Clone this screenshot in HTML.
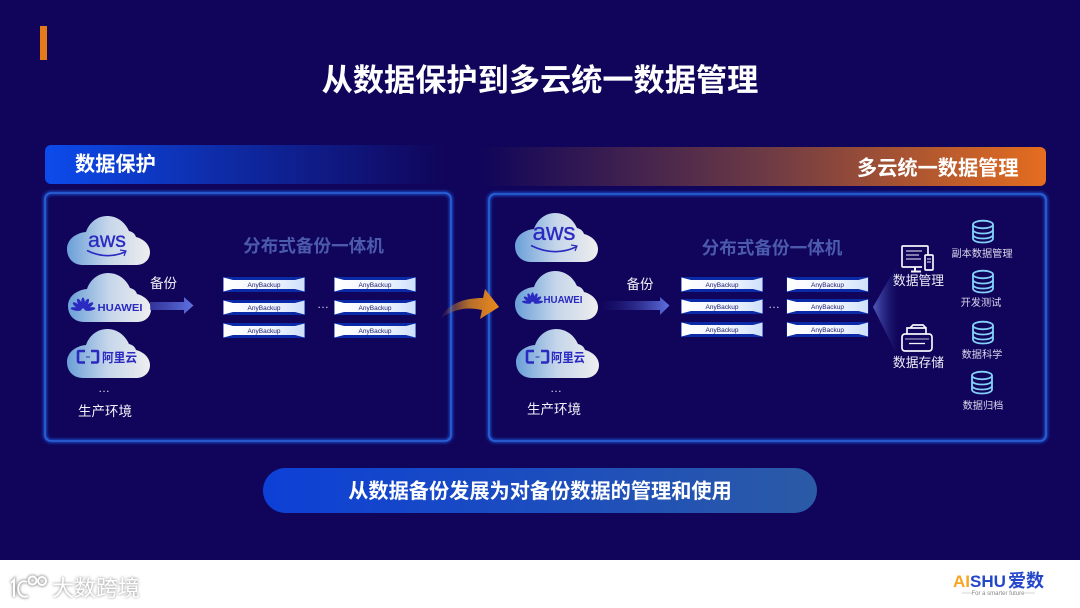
<!DOCTYPE html>
<html><head><meta charset="utf-8">
<style>
html,body{margin:0;padding:0;background:#10055a;width:1080px;height:608px;overflow:hidden}
svg{display:block}
text{font-family:"Liberation Sans","Noto Sans CJK SC",sans-serif}
.b{font-weight:700}
</style></head><body>
<svg width="1080" height="608" viewBox="0 0 1080 608" xmlns="http://www.w3.org/2000/svg">
<defs>
<linearGradient id="barL" x1="0" x2="1" y1="0" y2="0"><stop offset="0" stop-color="#0c4bec"/><stop offset=".45" stop-color="#0e2ba6"/><stop offset="1" stop-color="#10055a"/></linearGradient>
<linearGradient id="barR" x1="0" x2="1" y1="0" y2="0"><stop offset="0" stop-color="#10055a"/><stop offset=".5" stop-color="#6c3a45"/><stop offset="1" stop-color="#e56d1f"/></linearGradient>
<linearGradient id="pill" x1="0" x2="1" y1="0" y2="0"><stop offset="0" stop-color="#0d40d6"/><stop offset="1" stop-color="#2b5aa6"/></linearGradient>
<linearGradient id="cl" x1="0" x2="1" y1="0" y2="0"><stop offset="0" stop-color="#6a9fd8"/><stop offset=".5" stop-color="#c6d6ea"/><stop offset="1" stop-color="#eeeeee"/></linearGradient>
<linearGradient id="rk" x1="0" x2="1" y1="0" y2="0"><stop offset="0" stop-color="#ffffff"/><stop offset=".6" stop-color="#f0f5ff"/><stop offset="1" stop-color="#cfe0fb"/></linearGradient>
<linearGradient id="arB" x1="0" x2="1" y1="0" y2="0"><stop offset="0" stop-color="#3a3fa8" stop-opacity=".8"/><stop offset="1" stop-color="#5f72e0"/></linearGradient>
<linearGradient id="arB2" x1="0" x2="1" y1="0" y2="0"><stop offset="0" stop-color="#2a2a90" stop-opacity="0"/><stop offset="1" stop-color="#5f72e0"/></linearGradient>
<linearGradient id="arO" x1="0" x2="1" y1="0" y2="0"><stop offset="0" stop-color="#c07a30" stop-opacity="0"/><stop offset=".5" stop-color="#b56e2c"/><stop offset="1" stop-color="#ec8a1c"/></linearGradient>
<linearGradient id="fan" gradientUnits="userSpaceOnUse" x1="873" x2="898" y1="0" y2="0"><stop offset="0" stop-color="#4f5abb"/><stop offset="1" stop-color="#2a2a88" stop-opacity="0"/></linearGradient>
<filter id="glow" x="-5%" y="-5%" width="110%" height="110%"><feGaussianBlur stdDeviation="1.5"/></filter>
<filter id="sh" x="-10%" y="-30%" width="120%" height="160%"><feGaussianBlur stdDeviation="1.2"/></filter>
<path id="cloud" d="M16 49C6 49 0 42 0 33C0 24 8 17 19 16C22 7 30 0 40 0C50 0 58 6 62 15C66 16 68 18 69 21C77 23 83 29 83 36C83 44 77 49 69 49Z" fill="url(#cl)"/>
<g id="rack"><rect width="82" height="15" fill="#0b2aa8"/><path d="M.5 .5L10 3H72L81.500 .5V14.500L72 12H10L.5 14.500Z" fill="url(#rk)"/><text x="41" y="9.800" font-size="6.500" text-anchor="middle" fill="#1a1a6a">AnyBackup</text></g>
<g id="db" fill="none" stroke="#84d2fa" stroke-width="1.800"><ellipse cx="11" cy="4.500" rx="10" ry="3.800"/><path d="M1 4.500V18.500C1 21 5.500 22.500 11 22.500S21 21 21 18.500V4.500M1 9.500C1 12 5.500 13.500 11 13.500S21 12 21 9.500M1 14.500C1 17 5.500 18.500 11 18.500S21 17 21 14.500"/></g>
<g id="hw" fill="#2a2ac0">
<ellipse cx="10" cy="6" rx="1.900" ry="5.500"/>
<ellipse cx="10" cy="6" rx="1.900" ry="5.500" transform="rotate(-26 10 13)"/>
<ellipse cx="10" cy="6" rx="1.900" ry="5.500" transform="rotate(26 10 13)"/>
<ellipse cx="10" cy="6" rx="1.900" ry="5.500" transform="rotate(-54 10 13)"/>
<ellipse cx="10" cy="6" rx="1.900" ry="5.500" transform="rotate(54 10 13)"/>
<ellipse cx="10" cy="6" rx="1.700" ry="5.500" transform="rotate(-82 10 13)"/>
<ellipse cx="10" cy="6" rx="1.700" ry="5.500" transform="rotate(82 10 13)"/>
</g>
</defs>

<rect x="40" y="26" width="7" height="34" fill="#e57a1b"/>
<text class="b" x="540" y="91" font-size="31.200" text-anchor="middle" fill="#fff">从数据保护到多云统一数据管理</text>

<rect x="45" y="145" width="400" height="39" rx="6" fill="url(#barL)"/>
<rect x="480" y="147" width="566" height="39" rx="6" fill="url(#barR)"/>
<text class="b" x="75" y="171" font-size="20.200" fill="#fff">数据保护</text>
<text class="b" x="857" y="175" font-size="20.200" fill="#fff">多云统一数据管理</text>

<rect x="45" y="193" width="406" height="248" rx="6" fill="none" stroke="#1e5ae0" stroke-width="3" filter="url(#glow)"/>
<rect x="45" y="193" width="406" height="248" rx="6" fill="none" stroke="#2a64d8" stroke-width="1.600"/>
<rect x="489" y="194" width="557" height="247" rx="6" fill="none" stroke="#1e5ae0" stroke-width="3" filter="url(#glow)"/>
<rect x="489" y="194" width="557" height="247" rx="6" fill="none" stroke="#2a64d8" stroke-width="1.600"/>

<!-- left clouds -->
<use href="#cloud" x="67" y="216"/>
<text x="107" y="247" font-size="21" text-anchor="middle" fill="#2a2ac0" stroke="#2a2ac0" stroke-width=".3" textLength="38" lengthAdjust="spacingAndGlyphs">aws</text>
<path d="M87 250.500Q106 260 125 252" fill="none" stroke="#2a2ac0" stroke-width="1.600"/>
<path d="M120 250L126 251L124 256" fill="none" stroke="#2a2ac0" stroke-width="1.200"/>
<use href="#cloud" x="68" y="273"/>
<use href="#hw" x="73" y="297"/>
<text class="b" x="120" y="311" font-size="10.500" text-anchor="middle" fill="#2a2ac0" textLength="45" lengthAdjust="spacingAndGlyphs">HUAWEI</text>
<use href="#cloud" x="67" y="329"/>
<path d="M85 351H79Q78 351 78 352V361Q78 362.500 80 362.500H85M91 351H97Q98 351 98 352V361Q98 362.500 96 362.500H91" fill="none" stroke="#2a2ac0" stroke-width="2.600"/>
<rect x="86" y="356.500" width="4" height="1" fill="#2a2ac0"/>
<text class="b" x="119.500" y="362" font-size="12.500" text-anchor="middle" fill="#2a2ac0" textLength="35" lengthAdjust="spacingAndGlyphs">阿里云</text>
<text x="104" y="392" font-size="12" text-anchor="middle" fill="#d8d8ee">…</text>
<text x="105" y="416" font-size="13.500" text-anchor="middle" fill="#f0f0f8">生产环境</text>
<text x="163.500" y="288" font-size="13.500" text-anchor="middle" fill="#f0f0f8">备份</text>
<path d="M150 302H184V297L193.500 305.500L184 314V310H150Z" fill="url(#arB)"/>
<text class="b" x="313.500" y="252" font-size="17.600" text-anchor="middle" fill="#4c5aae">分布式备份一体机</text>
<use href="#rack" x="223" y="277"/><use href="#rack" x="223" y="300"/><use href="#rack" x="223" y="323"/>
<use href="#rack" x="334" y="277"/><use href="#rack" x="334" y="300"/><use href="#rack" x="334" y="323"/>
<text x="323" y="308" font-size="12" text-anchor="middle" fill="#d8d8ee">…</text>

<!-- orange arrow -->
<path d="M440 319C448 303 465 298 483 298L485 289L499 307L480 319L482 310C465 306 452 310 440 319Z" fill="url(#arO)"/>

<!-- right clouds -->
<use href="#cloud" x="515" y="213"/>
<text x="554" y="240" font-size="24" text-anchor="middle" fill="#2a2ac0" stroke="#2a2ac0" stroke-width=".3" textLength="43" lengthAdjust="spacingAndGlyphs">aws</text>
<path d="M531 245.500Q554 257 576 247" fill="none" stroke="#2a2ac0" stroke-width="1.600"/>
<path d="M571 245L577 246L575 251" fill="none" stroke="#2a2ac0" stroke-width="1.200"/>
<use href="#cloud" x="515" y="271"/>
<use href="#hw" transform="translate(524 292) scale(.85)"/>
<text class="b" x="563" y="303" font-size="10" text-anchor="middle" fill="#2a2ac0" textLength="39" lengthAdjust="spacingAndGlyphs">HUAWEI</text>
<use href="#cloud" x="516" y="329"/>
<path d="M534 351H528Q527 351 527 352V361Q527 362.500 529 362.500H534M541 351H547Q548 351 548 352V361Q548 362.500 546 362.500H541" fill="none" stroke="#2a2ac0" stroke-width="2.600"/>
<rect x="535.500" y="356.500" width="4" height="1" fill="#2a2ac0"/>
<text class="b" x="568" y="362" font-size="12.500" text-anchor="middle" fill="#2a2ac0" textLength="34" lengthAdjust="spacingAndGlyphs">阿里云</text>
<text x="556" y="392" font-size="12" text-anchor="middle" fill="#d8d8ee">…</text>
<text x="554" y="414" font-size="13.500" text-anchor="middle" fill="#f0f0f8">生产环境</text>
<text x="640" y="289" font-size="13.500" text-anchor="middle" fill="#f0f0f8">备份</text>
<path d="M600 301H660V297L669.500 305.500L660 315V310H600Z" fill="url(#arB2)"/>
<text class="b" x="772" y="254" font-size="17.600" text-anchor="middle" fill="#4c5aae">分布式备份一体机</text>
<use href="#rack" x="681" y="277"/><use href="#rack" x="681" y="299"/><use href="#rack" x="681" y="322"/>
<use href="#rack" x="786.500" y="277"/><use href="#rack" x="786.500" y="299"/><use href="#rack" x="786.500" y="322"/>
<text x="774" y="308" font-size="12" text-anchor="middle" fill="#d8d8ee">…</text>

<!-- fan -->
<path d="M873 307L900 260V353H896Z" fill="url(#fan)"/>

<!-- monitor icon -->
<g fill="none" stroke="#f4f4fb" stroke-width="1.700">
<path d="M928 255V247Q928 246 927 246H903Q902 246 902 247V266Q902 267 903 267H922"/>
<path d="M911 271.500H921M915 267V271.500" stroke-width="2"/>
<rect x="925" y="255" width="8" height="15" rx="1"/>
<path d="M906 251H922M906 255H919M906 259H921M927 259H931M927 262H931" stroke-width="1.100"/>
</g>
<text x="918.500" y="285" font-size="12.800" text-anchor="middle" fill="#ececf6">数据管理</text>
<!-- printer icon -->
<g fill="none" stroke="#f4f4fb" stroke-width="1.700">
<rect x="902" y="334" width="30" height="17" rx="3"/>
<path d="M907 334V328H926V334M910 328L913 325H923L926 328"/>
<path d="M909 343.500H925" stroke-width="1.300"/>
<path d="M905 339H929" stroke-width=".8"/>
</g>
<text x="918.500" y="367" font-size="12.800" text-anchor="middle" fill="#ececf6">数据存储</text>

<use href="#db" x="972" y="220"/>
<text x="982" y="257" font-size="10.200" text-anchor="middle" fill="#d8d8ee">副本数据管理</text>
<use href="#db" x="972" y="270"/>
<text x="981" y="306" font-size="10.200" text-anchor="middle" fill="#d8d8ee">开发测试</text>
<use href="#db" x="972" y="321"/>
<text x="982" y="358" font-size="10.200" text-anchor="middle" fill="#d8d8ee">数据科学</text>
<use href="#db" x="971" y="371"/>
<text x="983" y="409" font-size="10.200" text-anchor="middle" fill="#d8d8ee">数据归档</text>

<!-- pill -->
<rect x="263" y="468" width="554" height="45" rx="22.500" fill="url(#pill)"/>
<text class="b" x="540" y="498" font-size="20.200" text-anchor="middle" fill="#fff">从数据备份发展为对备份数据的管理和使用</text>

<!-- footer -->
<rect x="0" y="560" width="1080" height="48" fill="#fff"/>
<g fill="none" stroke="#9c9c9c" stroke-width="3.500" filter="url(#sh)">
<path d="M11 583L14 580V597M27 582C18 578 15 592 22 596C24 597 26 597 28 596"/>
<circle cx="32.500" cy="580.500" r="4"/><circle cx="42" cy="581" r="4"/>
</g>
<g fill="none" stroke="#fff" stroke-width="2">
<path d="M11 583L14 580V597M27 582C18 578 15 592 22 596C24 597 26 597 28 596"/>
<circle cx="32.500" cy="580.500" r="4"/><circle cx="42" cy="581" r="4"/>
</g>
<g filter="url(#sh)" opacity=".75">
<text class="b" x="52" y="596" font-size="22" fill="#8f8f8f">大数跨境</text>
</g>
<text x="52" y="596" font-size="22" fill="#fff">大数跨境</text>
<text class="b" x="953" y="587" font-size="17" textLength="53" lengthAdjust="spacingAndGlyphs"><tspan fill="#f5a623">AI</tspan><tspan fill="#2446c8">SHU</tspan></text>
<text class="b" x="1008" y="587" font-size="18" fill="#2446c8">爱数</text>
<text x="998" y="595" font-size="6" text-anchor="middle" fill="#888">For a smarter future</text>
<path d="M962 593H972M1024 593H1035" stroke="#aaa" stroke-width=".6"/>
</svg>
</body></html>
